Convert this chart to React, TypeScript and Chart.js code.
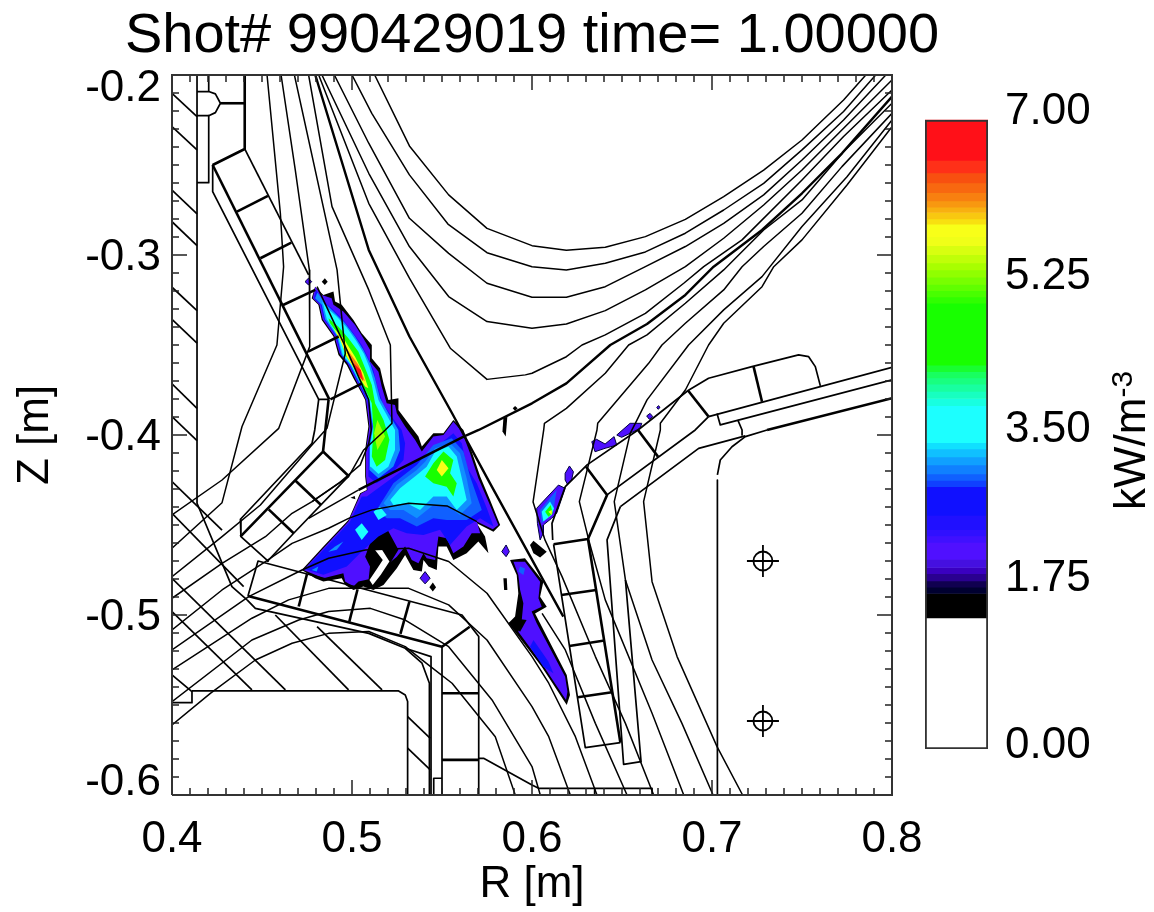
import React, { useEffect, useRef } from "react";
import { Chart, registerables } from "chart.js";

Chart.register(...registerables);

const FONT = "'Liberation Sans', Arial, sans-serif";

// All geometry below is flat [R, Z, R, Z, ...] in millimetres.
const xTickValues = [0.4, 0.5, 0.6, 0.7, 0.8];
const xTickLabels = ["0.4", "0.5", "0.6", "0.7", "0.8"];
const yLabelValues = [-0.5934, -0.5017, -0.4017, -0.3017, -0.2078];
const yTickLabels = ["-0.6", "-0.5", "-0.4", "-0.3", "-0.2"];
const coilCentres = [[728.3, -470], [728.3, -558.9]];

// Flux surfaces
const fluxLines = [
  [512.6,-200,531.9,-239.4,553.7,-266.6,575,-285.2,600,-294.8,619.1,-297.4,640.7,-295.7,663,-289.8,685.2,-280.2,706.5,-267.6,728.7,-252.8,750,-236.1,773.1,-213.9,785.2,-200.3],
  [500,-200,511,-221.3,531.9,-255.5,553.3,-282.8,575,-298.7,600,-306.5,619.1,-308.3,640.7,-304.6,663,-298.3,685.2,-287.9,706.5,-275,728.7,-260.2,750,-241.6,773.1,-220.3,790.7,-200.3],
  [490.2,-200,509.3,-237.9,531.9,-279.6,553.7,-299.1,575,-315.7,600,-323.5,619.1,-323.5,640.7,-317.6,663,-306.5,685.2,-295.3,706.5,-282.4,728.7,-266.6,750,-247.2,773.1,-225,796.3,-200.3],
  [483.3,-200,509.3,-254.6,531.9,-295.3,553.7,-323.1,575,-337,600,-340.7,619.1,-338.3,640.7,-330.9,663,-319.4,685.2,-306.5,706.5,-290.7,728.7,-272.2,750,-252.8,773.1,-229.6,800,-202.8],
  [481.5,-200,509.3,-271.3,531.9,-312.9,554.6,-351.8,575,-369.1,596.3,-366.6,600,-365.7,619.1,-356.5,627.8,-350,640.7,-344.4,663,-332.4,684.3,-315.7,695.4,-306.5,716.7,-291.6,750,-258.3,773.1,-234.2,800,-208.3],
  [800,-215.7,773.1,-242.6,750,-269.4,728.7,-286.1,706.5,-308.3,685.2,-326.8,663.9,-344.4,653.7,-350,640.7,-365.7,619.1,-385.2,606.9,-393.5,606.5,-397.2,600.6,-437.2,607.2,-458.3,616.7,-478.7,635.2,-523.1,651.9,-560.2,667.6,-600],
  [800,-221.3,772.2,-250.9,750,-276.8,728.7,-295.3,716.7,-306.5,706.5,-319.4,685.2,-337.9,672.2,-350,664.8,-360.2,636.5,-393.5,636.1,-397.2,626.3,-437,631.5,-458.3,640.7,-491.6,666.7,-554.6,684.3,-600],
  [800,-225,775,-256.5,750,-284.2,727.8,-312,706.5,-330.5,687,-350,663.9,-380.5,657.4,-393.5,654.6,-399,645.7,-437,651.9,-480.5,666.7,-525,683.3,-560.2,700.6,-600],
  [800,-228.7,775,-261.1,750,-291.6,734.3,-306.5,727.8,-317.6,706.5,-337.9,698.1,-350,685.2,-375,671.3,-393.5,671.3,-397.2,662,-437,666.7,-481.5,680.6,-523.1,702.8,-573.1,717,-600],
  [400,-508.3,427.8,-486.1,451.9,-470.3,466.7,-460.2,487,-451.8,498.1,-446.3,511.1,-441.6,531.5,-437.9,552.8,-439.4,569.4,-448.1],
  [605.6,-499.1,618.5,-519.4,635.2,-560.2,652.8,-600],
  [400,-519.4,442.6,-489.8,472.2,-475,487,-468.5,507.4,-463.9,531.5,-462.9,553.7,-470.3,575,-487.9,600,-523.1,609.3,-537.9,624.1,-567.6,636.1,-600],
  [400,-530.5,444.4,-501.8,464.8,-491.6,487,-485.2,509.3,-485.2,531.5,-485.2,553.7,-494.4,575,-513.9,600,-550.9,609.3,-567.6,621.3,-600],
  [400,-548.1,444.4,-513.9,470.4,-502.8,487,-498.1,510.2,-496.3,529.6,-502.8,553.7,-517.6,577.8,-547.2,600,-584.2,604.6,-600],
  [400,-561.1,421.3,-543.5,446.3,-525,466.7,-515.7,487,-510.2,509.3,-509.2,529.6,-517.6,542.6,-527.8,555.6,-537.9,579.6,-567.6,590.7,-600],
  [452.8,-200,460.2,-276.8,462,-306.5,458.3,-350,438.9,-395.3,427.8,-437.6,400,-462.9],
  [460.6,-200,468.5,-252.8,476.3,-308.3,476.5,-350.9,459.3,-396.3,427.8,-425,400,-444.4],
  [468,-200,491.7,-308.3,496.3,-354.6,486.1,-396.3,476.9,-406.5,449.1,-438.9,427.8,-456.5,400,-478.7],
  [475.9,-200,488.9,-273.1,509.3,-319.4,521.3,-350,522.2,-393.5,518.5,-397.2,506.5,-408.3,498.1,-423.1,477.8,-437,466.7,-443.5,451.9,-456.5,427.8,-471.3,400,-490.7],
  [480.6,-317.6,496.3,-350.9,509.3,-380.5,510.7,-397.2,509.3,-404.6,504.6,-416.6,492.6,-426.8,477.8,-437],
  [503.7,-430.5,475.9,-446.3],
];

// Separatrix, drawn heavier
const separatrixLeg = [479.6,-200,509.3,-297.2,531.9,-345.3,555.6,-387.9,576.7,-426.9,617.4,-500.9];
const separatrixArm = [503.7,-430.5,562,-400.9,570.4,-397.2,600,-382.4,619.1,-371.3,643.5,-350,663.9,-338.3,685.2,-322.2,700.9,-306.5,727.8,-286.1,750,-265.7,772.2,-243.5,800,-212];

// Machine wall, thin strokes
const thinWalls = [
  [441.7,-491.6,446.3,-496.3,509.3,-510.2,529.6,-518.5,543.9,-523.1,543.9,-600],
  [529.6,-518.5,538.9,-526.8,543,-537.9,543,-600],
  [442.2,-489.4,447.8,-470,561.1,-500,570.4,-512,570.4,-600],
  [550,-517.6,550,-600],
  [545.4,-600,545.4,-590.7,550,-590.7],
  [570.4,-579.6,573.1,-579.6,600,-594.4,603.7,-596.3,666.7,-596.3,666.7,-600],
  [634.8,-596.3,634.8,-600],
  [411.1,-542.2,525.9,-542.2,529.6,-544.4,530.9,-548.1,530.9,-600],
  [400,-548.7,411.1,-548.7,411.1,-542.2],
  [400,-210.2,413.9,-223.1],[400,-228.7,413.9,-241.6],[400,-263.9,413.9,-277.2],[400,-281.5,413.9,-294.8],
  [400,-317.9,413.9,-330.9],[400,-335.7,413.9,-349],[400,-371.6,413.9,-385.2],[400,-389.8,413.9,-403.1],
  [400,-425.9,427.8,-452.8],[400,-443.5,439.8,-484.2],[400,-479.6,463,-541.6],[400,-498.1,444.4,-541.6],
  [400,-533.3,411.1,-542.6],[457.4,-500,498.1,-541.6],[480.6,-506.5,516.7,-541.6],
  [530.9,-556.5,543.5,-568.5],[530.9,-574,543.5,-586.1],
  [420.4,-200,420.4,-208.7],
  [420.4,-222.6,420.4,-259.8,413.9,-259.8],
  [413.9,-209.2,420.4,-209.2,424.1,-210.5,426.9,-215.7,424.1,-220.9,420.4,-222.6,413.9,-222.6],
  [422.6,-250,422.6,-264.8,481.5,-380.2,487,-380.2],
  [440.4,-241.1,475.9,-311.1],
  [481.5,-380.2,479.3,-397.2,477.8,-404.6,438,-446.8,438.3,-456.5,453.7,-470.3],
  [498.1,-422.8,467.6,-454.6,452.8,-470.4],
  [649.1,-439.8,692.6,-407.4,718.5,-400.5],
  [649.1,-439.8,641.7,-458.3,650.9,-583,660.6,-581.5,651.9,-480.5],
  [612,-460.7,629.6,-573.7,649.1,-570.9],
  [611.5,-458.3,611.1,-449.1,618.5,-428.7,630.6,-416.6,658.9,-397.2,686.7,-375.3],
  [686.7,-375.3,698.1,-368.5,722.2,-362,748.1,-355.5,753.7,-356.5,757.4,-362,760.2,-372.7],
  [702.8,-388,704.6,-394.4,800,-369.4],
  [714.3,-391.6,716.7,-397.2,716.7,-400],
  [703,-422.2,704.6,-413.9,711.1,-406.5,718.5,-400.9,730.6,-397.2],
  [703,-425,703,-600],
  [413.9,-200,413.9,-437.9,433.3,-484.2,441.7,-491.6],
  [698.1,-389.8,800,-362.4],
  [641.7,-433.3,690.7,-397.2,698.1,-389.8],
];

// Machine wall, heavy strokes
const thickWalls = [
  [442.2,-489.4,550,-517.6,565.4,-506.5],
  [475,-477.2,470.4,-495.3],[503.1,-485.7,498.5,-503.7],[531.9,-492.6,526.9,-510.5],
  [550,-543.5,570,-543.5],[550,-580.5,570,-580.5],
  [426.9,-215.7,440.4,-215.7],
  [440.4,-200,440.4,-241.1,422.6,-250],
  [422.6,-250,487.4,-380.2],
  [436.1,-275.9,453.3,-267.2],[449.1,-301.8,466.3,-293.1],[461.7,-327.8,479.6,-319.4],[475.6,-353.7,492.6,-345.3],[488,-380.2,505.6,-371.3],
  [487,-380.2,485.2,-397.2,483.9,-409.2,438,-456.5],
  [483.9,-409.2,498.1,-422.8],
  [468.5,-425.3,482.8,-438.9],[453.7,-441.3,467.6,-454.6],
  [612,-460.7,631.1,-457.8,641.7,-433.3,630,-417.6],
  [631.1,-457.8,649.1,-570.9],
  [616.3,-488.9,635.7,-486.1],[620.7,-517.2,640.2,-514.2],[625.4,-545.7,644.4,-542.9],
  [658.9,-397.2,670,-412],[686.7,-375.3,698.1,-389.8],
  [723.1,-362,727.8,-381.5],
  [730.6,-397.2,800,-379.6],
];

// Filled contour bands of the emission (outer to inner)
const bandBlack = "#000000";
const bandPurple = "#4f10ff";
const bandBlue = "#1010ff";
const bandMid = "#1060ff";
const bandLight = "#1090ff";
const bandCyan = "#1cffff";
const bandGreen = "#18ff00";
const bandLime = "#a0ff00";
const bandYellow = "#f8ff18";
const bandOrange = "#f88010";
const bandRed = "#ff1018";

const plumeOutline = [479.5,-317.6,484.1,-322.2,489.7,-320.3,490.6,-325.9,494.3,-327.7,500.8,-336.1,505.4,-343.5,511,-350,511,-357.4,515.6,-362.9,517.5,-371.3,520.2,-380.5,525.8,-379.6,525.8,-386.1,531.3,-393.5,536.9,-400.9,538.8,-406.4,545.2,-399,550.8,-399,556.3,-391.6,561.9,-397.2,566.5,-409.2,571.2,-423.1,576.7,-436.1,582.3,-450,578.6,-453.7,569.3,-449,573.9,-456.4,575.8,-465.7,570.2,-459.2,563.7,-465.7,556.3,-469.4,552.6,-462,548,-462,547.1,-475,542.5,-473.1,539.7,-469.4,538.8,-475.9,534.1,-475,529.5,-466.6,524.9,-474,517.5,-483.3,511.9,-486.1,506.3,-484.2,500.8,-486.1,496.2,-483.3,494.3,-479.6,484.1,-481.4,479.5,-479.6,472.1,-475,484.1,-462,498,-447.2,504.5,-432.4,508.2,-430.5,507.3,-423.1,507.3,-408.3,509.1,-395.3,507.3,-380.5,505.4,-376.8,500.8,-368.5,497.1,-361.1,492.5,-355.5,489.7,-345.3,483.2,-336.1,481.3,-327.7,477.6,-324];
const plumePurple = [479.5,-317.6,483.2,-322.2,488.7,-324,489.7,-327.7,495.2,-331.4,501.7,-338.9,506.3,-346.3,510,-352.7,510,-359.2,514.7,-364.8,516.5,-373.1,519.3,-382.4,523.9,-383.3,524.9,-387.9,529.5,-395.3,535,-402.7,538.8,-409.2,545.2,-400.9,550.8,-400,556.3,-392.6,561,-398.1,565.6,-410.2,570.2,-424,575.8,-437,581.3,-450,578.2,-452.4,569.3,-448.1,571.2,-454.6,566.5,-454.6,561.9,-462,556.3,-465.7,552.6,-457.4,548,-456.4,546.2,-469.4,541.5,-468.5,539.7,-465.7,536.9,-471.3,533.2,-469.4,529.5,-462,524.9,-467.6,518.4,-473.1,511.9,-479.6,503.6,-481.4,500.8,-484.2,496.2,-481.4,495.2,-476.8,484.1,-479.6,479.5,-477.7,473,-475,484.1,-462.9,498,-448.1,504.9,-432.7,508.6,-430.5,507.8,-423.1,507.8,-408.3,509.7,-395.3,507.8,-380.5,505.4,-375.9,501.2,-367.6,497.5,-360.2,493,-354.6,490.2,-345,483.7,-335.7,481.9,-327.7,478.2,-324];
const plumeDarkCore = [510,-460.2,519.3,-451.8,525.8,-463.8,521.2,-471.3,517.5,-477.7,511.9,-484.2,509.1,-481.4,510,-473.1,507.3,-467.6];
const plumeChevron = [512.8,-463.9,516.5,-463.5,520.8,-470.3,516,-477.7,511.5,-483.3,509.7,-480.5,514.1,-474,517.1,-469.4];
const tailBlue = [480,-319.4,484.1,-325.9,488.7,-329.6,495.2,-336.1,500.8,-343.5,505.4,-350,509.1,-357.4,511.9,-363.9,514.1,-373.1,517.1,-382.4,522.1,-389.8,527.6,-397.2,529.5,-404.6,528.6,-413.9,522.1,-421.3,513.7,-426.8,509.1,-423.1,509.1,-408.3,511,-395.3,508.6,-381.4,506.7,-377.2,502.1,-368.5,498.4,-361.1,493.7,-355.5,491,-345,484.5,-335.7,482.6,-327.7,478.9,-324];
const tailLight = [480.8,-320.9,485,-326.8,489.7,-331.4,496.2,-337.9,501.7,-345.3,506.3,-352.7,510,-360.2,512.8,-368.5,515.6,-379.6,520.2,-387.9,525.8,-397.2,526.7,-408.3,523,-417.5,514.7,-424,509.7,-419.4,509.7,-406.4,511.5,-395.3,509.3,-382,507.3,-377.2,502.6,-368.5,498.9,-361.1,494.3,-355.5,491.5,-345,485,-335.7,483.2,-327.7,479.5,-324];
const tailCyan = [483.2,-325.9,486.9,-330.2,491.5,-334.2,497,-340.2,502.3,-347.6,506.7,-355,509.7,-362.4,512.3,-371.3,514.7,-380.5,519.3,-388.9,523.9,-397.2,523.9,-408.3,520.2,-417.6,514.7,-421.6,510.4,-417.6,510,-406.4,511.9,-395.3,510,-382.4,507.8,-377.2,503.2,-368.5,499.5,-361.1,494.9,-355.5,492.1,-345,486,-335.7,484.1,-327.7];
const tailGreen = [486.9,-335.2,492.5,-339.8,498,-346.3,503.6,-353.7,507.3,-362.9,511,-372.2,512.8,-382.4,517.5,-391.6,520.8,-402.7,518.4,-413.9,513.7,-417.6,511,-412,511.9,-397.2,511,-382.4,508.6,-377.2,504.1,-368.5,500.8,-362,496.2,-355.5,493.4,-345.3,487.8,-337.9];
const tailYellow = [489.7,-340.7,495.2,-346.3,501.7,-356.5,506.3,-365.7,509.1,-374,507.3,-373.1,502.6,-365.7,497.1,-356.5,493.4,-347.2];
const tailLime = [514.1,-391.6,518.4,-400.9,514.1,-408.3,512.3,-399];
const tailOrange = [496.2,-350.9,503.6,-361.1,507.3,-370.3,504.5,-367.6,498.9,-358.3];
const tailRed = [500.8,-360.2,504.9,-363.9,506.3,-370.3,503.9,-367.2];
const bodyBlue = [508.2,-434.2,515.6,-428.7,536,-413.9,547.1,-406.4,556.3,-399,561,-404.6,563.7,-417.6,569.3,-426.8,574.9,-440.7,578.6,-450.9,571.2,-446.3,563.7,-450.9,554.5,-461.1,548.9,-452.7,539.7,-455.5,530.4,-454.6,523,-451.8,514.7,-456.4,506.3,-463.9,497.1,-473.1,484.1,-477.7,473.9,-474.6,485.9,-462,498.9,-448.1,505.4,-434.2];
const bodyMid = [513.7,-441.6,523,-426.8,536,-416.6,545.2,-405.5,555.4,-401.8,561.9,-409.2,565.6,-423.1,572.1,-441.6,563.7,-447.2,552.6,-447.2,545.2,-446.3,536,-450.9,526.7,-446.3,519.3,-446.3];
const bodyLight = [517.5,-437.9,524.9,-427.7,536,-419.4,540.6,-414.8,546.2,-407.4,554.5,-404.6,560,-410.2,563.7,-424,566.5,-437.9,560,-444.4,552.6,-438.9,545.2,-438.9,536,-446.3,528.6,-441.6,521.2,-441.6];
const bodyCyan = [521.2,-436.1,526.7,-429.6,536,-422.2,541.5,-417.6,546.2,-409.2,553.6,-406.4,558.2,-412,561,-424,563.7,-436.1,558.2,-441.6,552.6,-434.2,545.2,-434.2,537.8,-441.6,530.4,-437.9,523,-438.9];
const bodyGreen = [540.6,-423.1,545.2,-415.7,550.8,-409.2,556.3,-413.9,554.5,-421.3,558.2,-426.8,556.3,-434.2,552.6,-428.7,545.2,-426.8];
const bodyYellow = [547.1,-419.4,549.9,-413.9,553.6,-418.5,549.9,-423.1];
const spotCyanA = [501.7,-452.7,505.4,-449,509.1,-453.7,505.4,-458.3];
const spotCyanB = [511.9,-442.6,515.6,-439.8,519.3,-444.4,514.7,-447.2];
const spotLightA = [486.9,-464.8,490.6,-462,495.2,-459.2,491.5,-463.8];
const spotLightB = [477.6,-475,481.3,-473.1,480.4,-475.9];
const stripOutline = [587.8,-469.4,596.1,-468.5,606.3,-481.5,604.5,-489.8,608.2,-495.4,601.7,-499.1,619.3,-533.3,621.1,-544.4,619.3,-550,605.4,-528.7,586.9,-504.6,590.6,-500.9,592.4,-488,591.5,-477.8];
const stripPurple = [589.7,-470.4,596.1,-470.4,604.5,-481.5,603.6,-490.7,605.4,-495.4,599.8,-498.1,602.6,-504.6,618.4,-534.3,619.7,-542.6,618.9,-547.2,605.4,-526.9,592.4,-509.3,594.3,-502.8,595.2,-493.5,593.4,-486.1,592.4,-477.8];
const stripBlueA = [593.4,-473.1,596.1,-474.1,595.2,-477.8,592.4,-475.9];
const stripBlueB = [600.8,-513.9,609.1,-525.9,611.9,-532.4,606.3,-528.7,598.9,-517.6];
const stripDark = [586.9,-504.6,590.6,-501.9,597,-502.8,593.4,-509.3];
const knotPurple = [602.6,-440.7,614.7,-427.8,618.4,-429.6,613.7,-443.5,610.9,-446.3,606.3,-450,606.3,-454.6,604.5,-458.3,603,-449.1];
const knotBlue = [604.5,-441.7,613.7,-430.6,611.9,-441.7,605.4,-449.1];
const knotCyan = [605.4,-442.6,610,-437,612.2,-440.7,610.9,-444.4,606.3,-448.1];
const knotGreen = [607.3,-442.6,610.4,-438.9,611.5,-443.5,609.1,-445.4];
const knotYellow = [609.1,-442.6,611,-441.7,611,-444.4];
const blackBlobs = [
  [584.1,-479.6,586,-479.6,586.3,-486.1,584.5,-486.1],
  [584.1,-390.7,586.3,-389.8,585.4,-400.9,583.6,-398.1],
  [589.3,-385.2,590.6,-383.9,592,-385.2,590.6,-386.7],
  [499.1,-434.8,501.5,-433.9,501.9,-435.7],
  [543,-484.6,544.9,-482,546.7,-484.6,544.9,-487],
  [484.9,-312.9,486.5,-314.8,484.9,-316.6,483.2,-314.8],
  [598.9,-461.1,600.8,-458.7,608.2,-464.8,604.5,-468.1,600.8,-465.7],
];
const edgedBlobs = [
  [473.9,-314.8,475.8,-312.9,477.6,-314.8,475.8,-316.6],
  [537.8,-479.6,540.6,-475.9,543.4,-479.6,540.6,-482.7],
  [583.2,-464.8,585.6,-461.1,587.4,-464.8,585.6,-467.6],
  [618.4,-421.3,620.8,-417.2,623,-420.4,622,-425,619.7,-427.4,618.4,-425],
  [633.2,-403.7,635.9,-402.4,640.6,-405,645.6,-400.9,647.1,-405.6,640.6,-407.4,635,-409.3],
  [647.1,-400,654.5,-393.5,661,-393.5,660,-396.3,654.5,-399.1,649.8,-401.3],
  [663.7,-389.4,665.6,-388,667.1,-389.8,665.2,-391.3],
  [669.3,-384.6,670.4,-383.7,671.1,-384.8,670,-385.7],
];

// Colour bar
const barEdges = [0,1.46,1.73,1.8,1.87,1.95,2.02,2.11,2.3,2.37,2.44,2.6,2.92,2.99,3.06,3.16,3.25,3.34,3.41,3.82,3.9,3.98,4.06,4.13,4.2,4.27,4.96,5.03,5.1,5.17,5.25,5.33,5.41,5.5,5.6,5.7,5.84,5.9,5.97,6.03,6.1,6.19,6.3,6.41,6.55,7];
const barColors = ["#ffffff","#000000","#000030","#100050","#2a0090","#3a00c0","#4510e0","#5010ff","#4010ff","#3010ff","#2010ff","#1010ff","#1040ff","#1060ff","#1080ff","#10a0ff","#10c0ff","#10e0ff","#1cffff","#18ffe0","#18ffc0","#18ffa0","#18ff80","#18ff60","#18ff30","#18ff00","#30ff00","#48ff00","#60ff00","#78ff00","#90ff00","#a8ff00","#c0ff08","#d8ff10","#f0ff18","#f8ff18","#f8e010","#f8c810","#f8b010","#f89810","#f88010","#f86810","#f85010","#ff3018","#ff1018"];
const barLabelValues = [0.04, 1.89, 3.55, 5.25, 7.09];
const barLabels = ["0.00", "1.75", "3.50", "5.25", "7.00"];
const barUnit = "kW/m";
const barUnitPower = "-3";

const toPoints = (flat: number[]) => {
  const out: { x: number; y: number }[] = [];
  for (let i = 0; i < flat.length; i += 2) out.push({ x: flat[i] / 1000, y: flat[i + 1] / 1000 });
  return out;
};
const polyline = (flat: number[], width: number, color = "#000") => ({
  data: toPoints(flat), showLine: true, borderColor: color, borderWidth: width, pointRadius: 0,
  borderJoinStyle: "round", tension: 0, fill: false,
});
const polygon = (flat: number[], color: string, edge = 0) => {
  const pts = toPoints(flat);
  pts.push(pts[0]);
  return {
    data: pts, showLine: true, borderColor: edge ? "#000040" : color, borderWidth: edge,
    backgroundColor: color, pointRadius: 0, tension: 0, fill: "shape", borderJoinStyle: "round",
  };
};
const tickMarks = (axis: "x" | "y", at: number) => {
  const data: { x: number; y: number }[] = [];
  const sign = at === 0.4 || at === -0.6 ? 1 : -1;
  for (let k = 0; k <= 40; k++) {
    const v = (axis === "x" ? 400 + k * 10 : -600 + k * 10) / 1000;
    const len = (k % 10 === 0 ? 15 : 7) / 1800;
    if (axis === "x") data.push({ x: v, y: at }, { x: v, y: at + sign * len }, { x: NaN, y: NaN });
    else data.push({ x: at, y: v }, { x: at + sign * len, y: v }, { x: NaN, y: NaN });
  }
  return { data, showLine: true, borderColor: "#222", borderWidth: 1.5, pointRadius: 0, tension: 0, fill: false };
};

// The title is wider than the plot but stays centred on it.
const titleSpan = {
  id: "titleSpan",
  afterLayout(c: any) {
    const mid = (c.chartArea.left + c.chartArea.right) / 2;
    c.titleBlock.left = mid - 450;
    c.titleBlock.right = mid + 450;
  },
};

export default function App() {
  const mainRef = useRef<HTMLCanvasElement>(null);
  const barRef = useRef<HTMLCanvasElement>(null);

  useEffect(() => {
    const sets: any[] = [
      polygon(plumeOutline, bandBlack),
      polygon(stripOutline, bandBlack),
      polygon(plumePurple, bandPurple),
      polygon(stripPurple, bandPurple),
      polygon(plumeDarkCore, bandBlack),
      polygon(plumeChevron, "#ffffff"),
      polygon(stripDark, bandBlack),
      polygon(stripBlueA, bandMid),
      polygon(stripBlueB, bandBlue),
      polygon(tailBlue, bandBlue),
      polygon(bodyBlue, bandBlue),
      polygon(bodyMid, bandMid),
      polygon(tailLight, bandLight),
      polygon(bodyLight, bandLight),
      polygon(tailCyan, bandCyan),
      polygon(bodyCyan, bandCyan),
      polygon(tailGreen, bandGreen),
      polygon(bodyGreen, bandGreen),
      polygon(tailLime, bandLime),
      polygon(tailYellow, bandYellow),
      polygon(bodyYellow, bandYellow),
      polygon(tailOrange, bandOrange),
      polygon(tailRed, bandRed),
      polygon(spotCyanA, bandCyan),
      polygon(spotCyanB, bandCyan),
      polygon(spotLightA, bandLight),
      polygon(spotLightB, bandLight),
      polygon(knotPurple, bandPurple, 1),
      polygon(knotBlue, bandMid),
      polygon(knotCyan, bandCyan),
      polygon(knotGreen, bandGreen),
      polygon(knotYellow, bandYellow),
      ...blackBlobs.map((b) => polygon(b, bandBlack)),
      ...edgedBlobs.map((b) => polygon(b, bandPurple, 1)),
      ...fluxLines.map((l) => polyline(l, 1.5)),
      polyline(separatrixLeg, 2.4),
      polyline(separatrixArm, 2.4),
      ...thinWalls.map((l) => polyline(l, 1.7)),
      ...thickWalls.map((l) => polyline(l, 2.6)),
      {
        data: coilCentres.map(([x, y]) => ({ x: x / 1000, y: y / 1000 })), pointStyle: "circle", pointRadius: 9.5,
        pointBorderColor: "#000", pointBorderWidth: 1.8, pointBackgroundColor: "rgba(0,0,0,0)",
      },
      {
        data: coilCentres.map(([x, y]) => ({ x: x / 1000, y: y / 1000 })), pointStyle: "cross", pointRadius: 16,
        pointBorderColor: "#000", pointBorderWidth: 1.8,
      },
      tickMarks("x", -0.6),
      tickMarks("x", -0.2),
      tickMarks("y", 0.4),
      tickMarks("y", 0.8),
      {
        data: toPoints([400,-600,800,-600,800,-200,400,-200,400,-600]), showLine: true, borderColor: "#333",
        borderWidth: 2, pointRadius: 0, tension: 0, fill: false, clip: false,
      },
    ];
    sets.forEach((d, i) => { d.order = -i; });

    const chart = new Chart(mainRef.current!, {
      type: "scatter",
      data: { datasets: sets },
      plugins: [titleSpan],
      options: {
        animation: false, responsive: false,
        layout: { padding: { left: 0, right: 262, top: 0, bottom: 0 } },
        plugins: {
          legend: { display: false }, tooltip: { enabled: false },
          title: {
            display: true, text: "Shot# 990429019 time= 1.00000", color: "#000", fullSize: false,
            font: { family: FONT, size: 56, weight: "normal", lineHeight: 1.2 },
            padding: { top: 3, bottom: 4.8 },
          },
        },
        scales: {
          x: {
            type: "linear", min: 0.4, max: 0.8, grid: { display: false, drawTicks: false }, border: { display: false },
            afterBuildTicks: (a: any) => { a.ticks = xTickValues.map((value) => ({ value })); },
            afterFit: (a: any) => { a.height = 117; },
            ticks: {
              autoSkip: false, maxRotation: 0, color: "#000", padding: 18,
              font: { family: FONT, size: 44 }, callback: (_v: any, i: number) => xTickLabels[i],
            },
            title: { display: true, text: "R [m]", color: "#000", font: { family: FONT, size: 44 }, padding: { top: 0, bottom: 1 } },
          },
          y: {
            type: "linear", min: -0.6, max: -0.2, grid: { display: false, drawTicks: false }, border: { display: false },
            afterBuildTicks: (a: any) => { a.ticks = yLabelValues.map((value) => ({ value })); },
            afterFit: (a: any) => { a.width = 172; },
            ticks: {
              autoSkip: false, color: "#000", padding: 11,
              font: { family: FONT, size: 44 }, callback: (_v: any, i: number) => yTickLabels[i],
            },
            title: { display: true, text: "Z [m]", color: "#000", font: { family: FONT, size: 44 }, padding: { top: 9, bottom: 0 } },
          },
        },
      } as any,
    });

    const bands: any[] = barColors.map((c, i) => ({
      data: [[barEdges[i], barEdges[i + 1]]], backgroundColor: c, borderWidth: 0,
      barPercentage: 1, categoryPercentage: 1, grouped: false, order: -i,
    }));
    bands.push({
      data: [[0, 7]], backgroundColor: "rgba(0,0,0,0)", borderColor: "#333", borderWidth: 1.5, borderSkipped: false,
      barPercentage: 1, categoryPercentage: 1, grouped: false, order: -100,
    });
    const unitPlugin = {
      id: "unitLabel",
      afterDraw(c: any) {
        const ctx = c.ctx;
        ctx.save();
        ctx.translate(240, 510);
        ctx.rotate(-Math.PI / 2);
        ctx.fillStyle = "#000";
        ctx.textBaseline = "alphabetic";
        ctx.font = `44px ${FONT}`;
        ctx.fillText(barUnit, 0, 0);
        const w = ctx.measureText(barUnit).width;
        ctx.font = `30px ${FONT}`;
        ctx.fillText(barUnitPower, w, -13);
        ctx.restore();
      },
    };
    const bar = new Chart(barRef.current!, {
      type: "bar",
      data: { labels: [""], datasets: bands },
      plugins: [unitPlugin],
      options: {
        animation: false, responsive: false,
        layout: { padding: { left: 20, right: 0, top: 93, bottom: 163 } },
        plugins: { legend: { display: false }, tooltip: { enabled: false } },
        scales: {
          x: { display: false },
          y: {
            type: "linear", position: "right", min: 0, max: 7.3,
            grid: { display: false, drawTicks: false }, border: { display: false },
            afterBuildTicks: (a: any) => { a.ticks = barLabelValues.map((value) => ({ value })); },
            afterFit: (a: any) => { a.width = 166; },
            ticks: {
              autoSkip: false, color: "#000", padding: 17,
              font: { family: FONT, size: 44 }, callback: (_v: any, i: number) => barLabels[i],
            },
          },
        },
      } as any,
    });

    return () => { chart.destroy(); bar.destroy(); };
  }, []);

  return (
    <div style={{ position: "absolute", left: 0, top: 0, width: 1154, height: 912, background: "#fff" }}>
      <canvas ref={mainRef} width={1154} height={912} style={{ position: "absolute", left: 0, top: 0 }} />
      <canvas ref={barRef} width={249} height={912} style={{ position: "absolute", left: 905, top: 0 }} />
    </div>
  );
}
